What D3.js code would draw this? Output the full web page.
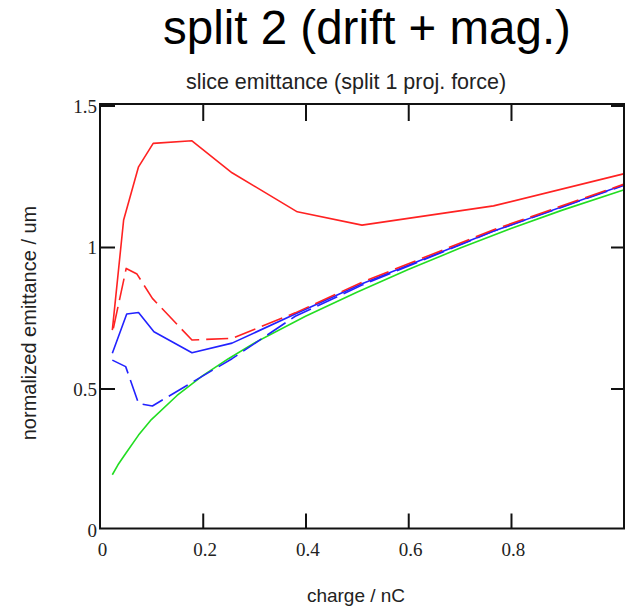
<!DOCTYPE html>
<html>
<head>
<meta charset="utf-8">
<script src="https://cdn.jsdelivr.net/npm/d3@7"></script>
<style>
  html, body { margin: 0; padding: 0; background: #fff; }
  svg { display: block; }
</style>
</head>
<body>
<svg id="chart" width="625" height="610"></svg>
<script>
// Slice emittance vs bunch charge, split 2 (drift + mag.)
const xTicks = [0.2, 0.4, 0.6, 0.8];
const xLabels = [0, 0.2, 0.4, 0.6, 0.8];
const yTicks = [0.5, 1, 1.5];
const yLabels = [0, 0.5, 1, 1.5];

// red, solid
const redSolidQ = [0.024, 0.046, 0.075, 0.1035, 0.179, 0.257, 0.384, 0.510, 0.766, 1.019];
const redSolidE = [0.701, 1.090, 1.278, 1.361, 1.370, 1.257, 1.119, 1.072, 1.140, 1.253];
// red, dashed
const redDashQ = [0.026, 0.051, 0.072, 0.102, 0.179, 0.257, 0.380, 0.510, 0.765, 1.019];
const redDashE = [0.707, 0.919, 0.899, 0.813, 0.666, 0.672, 0.762, 0.870, 1.055, 1.216];
// blue, solid
const blueSolidQ = [0.024, 0.052, 0.075, 0.105, 0.179, 0.257, 0.380, 0.510, 0.765, 1.019];
const blueSolidE = [0.619, 0.758, 0.763, 0.695, 0.621, 0.655, 0.758, 0.865, 1.050, 1.214];
// blue, dashed
const blueDashQ = [0.024, 0.050, 0.075, 0.102, 0.176, 0.257, 0.380, 0.510, 0.765, 1.019];
const blueDashE = [0.595, 0.572, 0.442, 0.433, 0.513, 0.600, 0.750, 0.860, 1.050, 1.212];
// green, solid
const greenQ = [0.024, 0.035, 0.05, 0.075, 0.1, 0.15, 0.2, 0.25, 0.3, 0.4, 0.5, 0.6, 0.7, 0.8, 0.9, 1.019];
const greenE = [0.19, 0.225, 0.265, 0.33, 0.385, 0.47, 0.54, 0.60, 0.655, 0.75, 0.835, 0.915, 0.99, 1.06, 1.125, 1.196];

const series = [
  { q: greenQ, e: greenE, color: "#22dd22", dash: null },
  { q: blueDashQ, e: blueDashE, color: "#2222ff", dash: "22,7" },
  { q: blueSolidQ, e: blueSolidE, color: "#2222ff", dash: null },
  { q: redSolidQ, e: redSolidE, color: "#ff2222", dash: null },
  { q: redDashQ, e: redDashE, color: "#ff2222", dash: "22,7" }
];

const svg = d3.select("#chart");
const plotLeft = 100, plotRight = 624, plotTop = 104, plotBottom = 528.5;

const x = d3.scaleLinear().domain([0, 1.02]).range([plotLeft, plotRight]);
const y = d3.scaleLinear().domain([0, 1.5]).range([plotBottom, plotTop]);

const sans = "'Liberation Sans', Arial, sans-serif";
const serif = "'Liberation Serif', 'Times New Roman', serif";

// titles
svg.append("text")
  .attr("x", 367).attr("y", 44)
  .attr("text-anchor", "middle")
  .style("font-family", sans)
  .style("font-size", "47.5px").style("fill", "#000")
  .text("split 2 (drift + mag.)");

svg.append("text")
  .attr("x", 346).attr("y", 89)
  .attr("text-anchor", "middle")
  .style("font-family", sans)
  .style("font-size", "21.5px").style("fill", "#222")
  .text("slice emittance (split 1 proj. force)");

svg.append("text")
  .attr("x", 356).attr("y", 602)
  .attr("text-anchor", "middle")
  .style("font-family", sans)
  .style("font-size", "19px").style("fill", "#222")
  .text("charge / nC");

svg.append("text")
  .attr("transform", "translate(36,323) rotate(-90)")
  .attr("text-anchor", "middle")
  .style("font-family", sans)
  .style("font-size", "20px").style("fill", "#222")
  .text("normalized emittance / um");

// curves
const line = d3.line().x(d => x(d[0])).y(d => y(d[1]));
const plot = svg.append("g");
series.forEach(s => {
  const pts = s.q.map((q, i) => [q, s.e[i]]);
  plot.append("path")
    .attr("d", line(pts))
    .attr("fill", "none")
    .attr("stroke", s.color)
    .attr("stroke-width", 1.6)
    .attr("stroke-linejoin", "round")
    .attr("stroke-dasharray", s.dash);
});

// inward ticks on all four sides
const tickStyle = g => {
  g.select(".domain").remove();
  g.selectAll(".tick line").attr("stroke", "#111").attr("stroke-width", 2);
  g.selectAll(".tick text").remove();
};
svg.append("g").attr("transform", `translate(0,${plotBottom})`)
  .call(d3.axisBottom(x).tickValues(xTicks).tickSize(-15)).call(tickStyle);
svg.append("g").attr("transform", `translate(0,${plotTop})`)
  .call(d3.axisTop(x).tickValues(xTicks).tickSize(-17)).call(tickStyle);
svg.append("g").attr("transform", `translate(${plotLeft},1.5)`)
  .call(d3.axisLeft(y).tickValues(yTicks).tickSize(-15)).call(tickStyle);
svg.append("g").attr("transform", `translate(${plotRight},1.5)`)
  .call(d3.axisRight(y).tickValues(yTicks).tickSize(-13)).call(tickStyle);

// frame
svg.append("rect")
  .attr("x", plotLeft).attr("y", plotTop)
  .attr("width", plotRight - plotLeft).attr("height", plotBottom - plotTop)
  .attr("fill", "none").attr("stroke", "#111").attr("stroke-width", 2);

// tick labels
const xl = svg.append("g")
  .attr("transform", `translate(2,${plotBottom})`)
  .call(d3.axisBottom(x).tickValues(xLabels).tickSize(0).tickPadding(14).tickFormat(d3.format("")));
xl.select(".domain").remove();
xl.selectAll("text").attr("fill", "#222").style("font-family", serif).style("font-size", "19px");

const yl = svg.append("g")
  .attr("transform", `translate(${plotLeft},2)`)
  .call(d3.axisLeft(y).tickValues(yLabels).tickSize(0).tickPadding(3).tickFormat(d3.format("")));
yl.select(".domain").remove();
yl.selectAll("text").attr("fill", "#222").style("font-family", serif).style("font-size", "19px");
</script>
</body>
</html>
